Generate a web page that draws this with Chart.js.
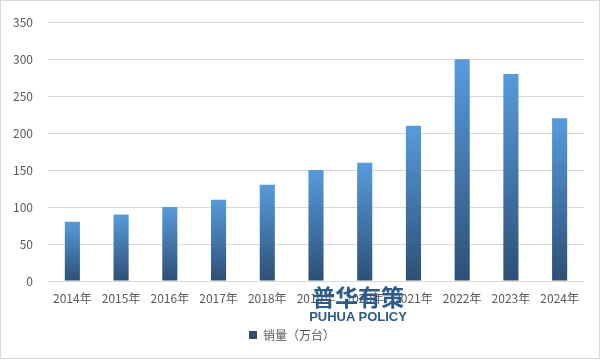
<!DOCTYPE html>
<html><head><meta charset="utf-8">
<script src="https://cdn.jsdelivr.net/npm/chart.js@4/dist/chart.umd.min.js"></script>
<style>
html,body{margin:0;padding:0;background:#fff;}
#wrap{position:relative;width:601px;height:360px;}
#frame{position:absolute;left:0;top:0;width:598px;height:357px;border:1px solid #d9d9d9;pointer-events:none;}
#wm{position:absolute;left:306px;top:285px;width:104px;text-align:center;color:#2a5b8c;font-family:"Noto Sans CJK SC",sans-serif;font-weight:bold;line-height:1;}
#wm .cn{font-size:23px;letter-spacing:0px;}
#wm .en{font-size:13px;font-family:"Liberation Sans",sans-serif;margin-top:2px;}
</style></head>
<body>
<div id="wrap"><canvas id="c" width="601" height="360"></canvas><div id="frame"></div>
<div id="wm"><div class="cn">普华有策</div><div class="en">PUHUA POLICY</div></div></div>
<script>
const categories = ["2014年","2015年","2016年","2017年","2018年","2019年","2020年","2021年","2022年","2023年","2024年"];
const seriesName = "销量（万台）";
const sales = [80, 90, 100, 110, 130, 150, 160, 210, 300, 280, 220];
const yTicks = [0, 50, 100, 150, 200, 250, 300, 350];

const TOP = '#579bdd', BOT = '#2c5075';
const font = {family: '"Noto Sans CJK SC", "Liberation Sans", sans-serif', size: 12};

new Chart(document.getElementById('c'), {
  type: 'bar',
  data: {
    labels: categories,
    datasets: [{
      label: seriesName,
      data: sales,
      backgroundColor: (ctx) => {
        const chart = ctx.chart;
        if (!chart.chartArea || ctx.type !== 'data') {
          const g = chart.ctx.createLinearGradient(0, 331, 0, 339);
          g.addColorStop(0, TOP); g.addColorStop(1, BOT); return g;
        }
        const y = chart.scales.y;
        const yt = y.getPixelForValue(ctx.raw), yb = y.getPixelForValue(0);
        const g = chart.ctx.createLinearGradient(0, yt, 0, yb);
        g.addColorStop(0, TOP); g.addColorStop(1, BOT);
        return g;
      },
      categoryPercentage: 1,
      barPercentage: 0.31
    }]
  },
  options: {
    responsive: false,
    animation: false,
    devicePixelRatio: 1,
    layout: {autoPadding: false, padding: {top: 18, right: 17, left: 0, bottom: 9}},
    plugins: {
      legend: {
        position: 'bottom',
        labels: {boxWidth: 8, boxHeight: 8, color: '#595959', font: font, padding: 8}
      },
      tooltip: {enabled: false}
    },
    scales: {
      x: {
        grid: {display: false, drawTicks: false},
        border: {display: false},
        ticks: {color: '#595959', font: font, padding: 10, maxRotation: 0, autoSkip: false},
        afterFit: (s) => { s.height = 40; }
      },
      y: {
        min: 0, max: 350,
        afterBuildTicks: (s) => { s.ticks = yTicks.map(v => ({value: v})); },
        grid: {color: '#d9d9d9', drawTicks: false},
        border: {display: false},
        ticks: {color: '#595959', font: font, padding: 15},
        afterFit: (s) => { s.width = 48; }
      }
    }
  }
});
</script>
</body></html>
